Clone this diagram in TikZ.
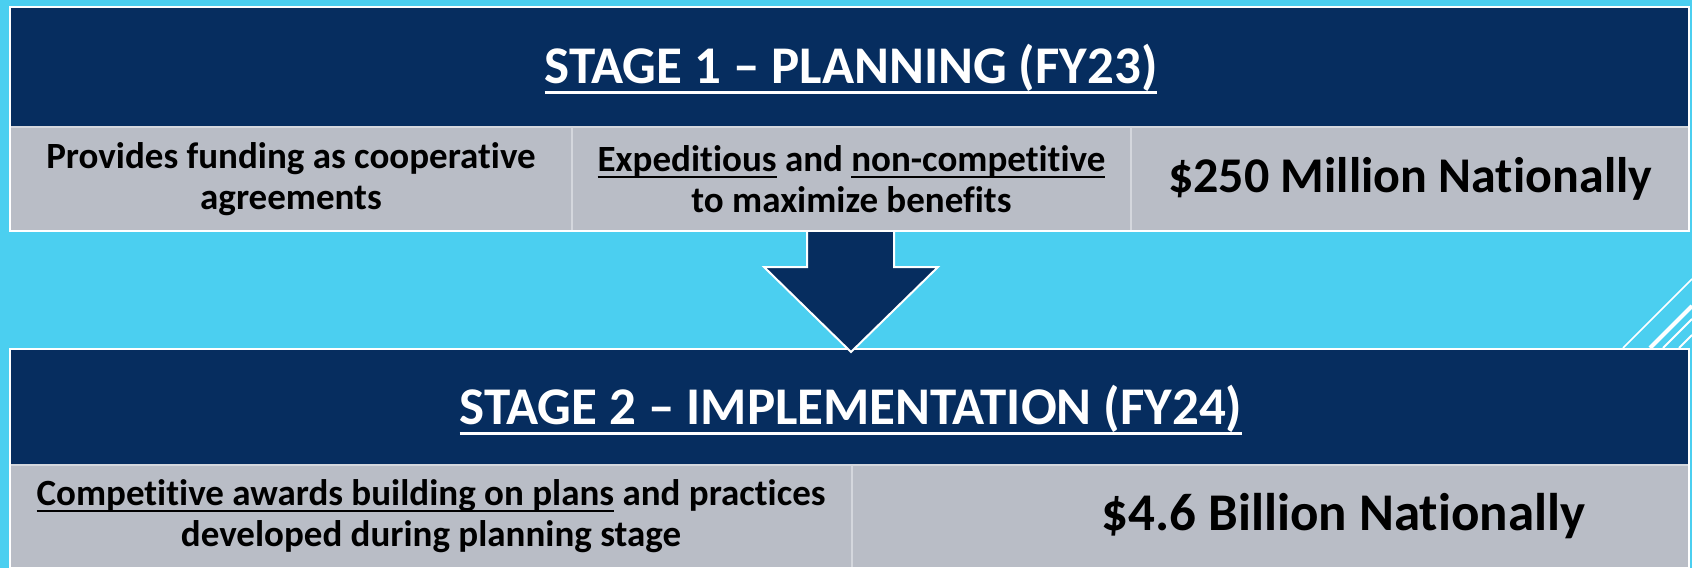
\documentclass[tikz,border=0pt]{standalone}
\usepackage{fontspec}
\setmainfont{Carlito}[Ligatures=NoCommon]
\definecolor{bgcyan}{RGB}{75,207,240}
\definecolor{navy}{RGB}{6,45,95}
\definecolor{cellgray}{RGB}{185,189,198}
\definecolor{cellline}{RGB}{212,215,221}
\newcommand\hul[1]{\leavevmode\setbox0\hbox{#1}\rlap{\vrule width\wd0 height -0.15em depth 0.21em}\box0\relax}
\newcommand\cul[1]{\leavevmode\setbox0\hbox{#1}\rlap{\vrule width\wd0 height -0.12em depth 0.175em}\box0\relax}
\begin{document}
\begin{tikzpicture}[x=1pt,y=-1pt,
  hdr/.style={fill=navy, draw=none, inner sep=0pt, outer sep=0pt},
  htext/.style={anchor=base, inner sep=0pt, text=white, font=\fontsize{53}{60}\selectfont\bfseries},
  cell/.style={fill=cellgray, draw=cellline, line width=1.5pt, inner sep=0pt, outer sep=0pt, align=center, text=black, font=\fontsize{37}{41}\selectfont\bfseries},
  bigcell/.style={cell, font=\fontsize{50}{56}\selectfont\bfseries},
  hugecell/.style={cell, font=\fontsize{53}{58}\selectfont\bfseries},
  frame/.style={draw=white, line width=2pt},
  stripe/.style={draw=white}]
\useasboundingbox (0,0) rectangle (1692,568);
\fill[bgcyan] (0,0) rectangle (1692,568);
% decorative stripes
\draw[stripe, line width=1.5pt] (1623,348) -- (1692,279);
\draw[stripe, line width=4pt] (1650,348) -- (1692,306);
\draw[stripe, line width=2pt] (1663,348) -- (1692,319);
\draw[stripe, line width=2pt] (1679,348) -- (1692,335);
% bottom table
\node[hdr, minimum width=1679pt, minimum height=116pt] (h2) at (849.5,407) {};
\node[cell, minimum width=842pt, minimum height=103pt] (b1) at (431,516.5)
  {\cul{Competitive awards building on plans} and practices\\developed during planning stage};
\node[hugecell, minimum width=837pt, minimum height=103pt] (b2) at (1270.5,516.5)
  {\hspace*{146pt}\$4.6 Billion Nationally};
\draw[frame] (h2.north west) rectangle (b2.south east);
\node[htext] (t2) at (851,424) {\hul{STAGE 2 – IMPLEMENTATION (FY24)}};
% arrow
\coordinate (s1) at (807,229);
\coordinate (s2) at (894,229);
\fill[navy] (s1) -- (807,267) -- (764,267) -- (851,352) -- (938,267) -- (894,267) -- (s2) -- cycle;
\draw[white, line width=2pt, line join=miter] (807,232) -- (807,267) -- (764,267) -- (851,352) -- (938,267) -- (894,267) -- (894,232);
% top table
\node[hdr, minimum width=1679pt, minimum height=120pt] (h1) at (849.5,67) {};
\node[cell, minimum width=562pt, minimum height=104pt] (a1) at (291,179)
  {Provides funding as cooperative\\agreements};
\node[cell, minimum width=559pt, minimum height=104pt] (a2) at (851.5,179)
  {\cul{Expeditious} and \cul{non-competitive}\\to maximize benefits};
\node[bigcell, minimum width=558pt, minimum height=104pt] (a3) at (1410,179)
  {\$250 Million Nationally};
\draw[frame] (h1.north west) rectangle (a3.south east);
\node[htext] (t1) at (851,83) {\hul{STAGE 1 – PLANNING (FY23)}};
\end{tikzpicture}
\end{document}
